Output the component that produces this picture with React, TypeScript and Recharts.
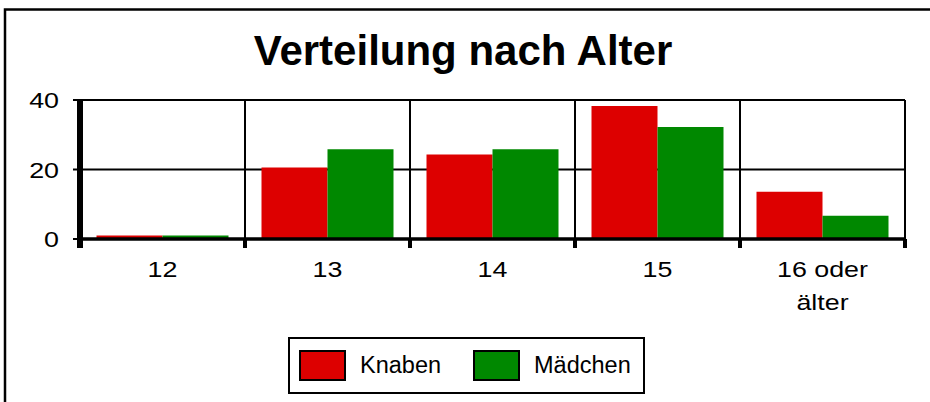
import { BarChart, Bar, XAxis, YAxis, CartesianGrid, Legend } from 'recharts';

const ages = ['12', '13', '14', '15', '16 oder\nälter'];
const knaben = [1, 20.6, 24.3, 38.3, 13.6];
const maedchen = [1, 25.8, 25.8, 32.2, 6.7];
const yTicks = [0, 20, 40];

const data = ages.map((age, i) => ({ age, knaben: knaben[i], maedchen: maedchen[i] }));

const FONT = '"Liberation Sans", Arial, sans-serif';

// vertical grid lines sit on the category boundaries, not on the centres
const boundaryLines = ({ xAxis, offset }: any) => {
    const scale = xAxis && xAxis.scale;
    if (typeof scale === 'function' && typeof scale.bandwidth === 'function') {
        const bw = scale.bandwidth();
        const edges = ages.map((a) => scale(a));
        edges.push(scale(ages[ages.length - 1]) + bw);
        return edges;
    }
    const step = offset.width / ages.length;
    return [...ages.map((_, i) => offset.left + i * step), offset.left + offset.width];
};

const AgeTick = (props: any) => {
    const { x, y, payload, index } = props;
    const half = payload.offset ?? 0;
    const lines = String(payload.value).split('\n');
    return (
        <g>
            <line x1={x - half} x2={x - half} y1={y} y2={y + 9} stroke="#000" strokeWidth={index === 0 ? 6 : 4} />
            {index === ages.length - 1 && (
                <line x1={x + half} x2={x + half} y1={y} y2={y + 9} stroke="#000" strokeWidth={4} />
            )}
            {lines.map((line, i) => (
                <g key={i} transform={`translate(${x},${y + 38 + i * 33}) scale(1.22,1)`}>
                    <text x={0} y={0} textAnchor="middle" fontSize={22} fontFamily={FONT} fill="#000">
                        {line}
                    </text>
                </g>
            ))}
        </g>
    );
};

const ValueTick = (props: any) => {
    const { x, y, payload } = props;
    return (
        <g transform={`translate(${x},${y + 8}) scale(1.22,1)`}>
            <text x={0} y={0} textAnchor="end" fontSize={22} fontFamily={FONT} fill="#000">
                {payload.value}
            </text>
        </g>
    );
};

const LegendBox = (props: any) => {
    const { payload } = props;
    return (
        <div
            style={{
                boxSizing: 'border-box',
                width: '100%',
                height: '100%',
                border: '2px solid #000',
                display: 'flex',
                alignItems: 'center',
                paddingLeft: 9,
                fontFamily: FONT,
                fontSize: 23.5,
                color: '#000',
                background: '#fff',
            }}
        >
            {(payload || []).map((entry: any, i: number) => (
                <div key={i} style={{ display: 'flex', alignItems: 'center', marginRight: 32 }}>
                    <span
                        style={{
                            display: 'inline-block',
                            boxSizing: 'border-box',
                            width: 47,
                            height: 31,
                            background: entry.color,
                            border: '2px solid #000',
                            marginRight: 14,
                        }}
                    />
                    <span>{entry.value}</span>
                </div>
            ))}
        </div>
    );
};

export default function App() {
    return (
        <div style={{ position: 'absolute', left: 0, top: 0, width: 930, height: 402, overflow: 'hidden', background: '#fff' }}>
            <svg width={930} height={402} style={{ position: 'absolute', left: 0, top: 0 }}>
                <rect x={5} y={9.5} width={1000} height={1000} fill="none" stroke="#000" strokeWidth={2.5} />
                <text x={463} y={65} textAnchor="middle" fontSize={42} fontWeight="bold" fontFamily={FONT} fill="#000">
                    Verteilung nach Alter
                </text>
            </svg>
            <div style={{ position: 'absolute', left: 0, top: 0 }}>
                <BarChart
                    width={930}
                    height={402}
                    data={data}
                    margin={{ top: 100, right: 25, left: 0, bottom: 83 }}
                    barCategoryGap="10%"
                    barGap={0}
                >
                    <CartesianGrid
                        stroke="#000"
                        strokeWidth={2}
                        verticalCoordinatesGenerator={boundaryLines}
                        syncWithTicks={false}
                    />
                    <XAxis
                        dataKey="age"
                        height={80}
                        interval={0}
                        tickSize={0}
                        tickMargin={0}
                        tickLine={false}
                        axisLine={{ stroke: '#000', strokeWidth: 3.5 }}
                        tick={<AgeTick />}
                    />
                    <YAxis
                        width={80}
                        domain={[0, 40]}
                        ticks={yTicks}
                        tickSize={7}
                        tickMargin={14}
                        tickLine={{ stroke: '#000', strokeWidth: 2 }}
                        axisLine={{ stroke: '#000', strokeWidth: 6 }}
                        tick={<ValueTick />}
                    />
                    <Legend
                        layout="vertical"
                        align="center"
                        verticalAlign="middle"
                        wrapperStyle={{ left: 288, top: 337, width: 357, height: 57 }}
                        content={<LegendBox />}
                    />
                    <Bar dataKey="knaben" name="Knaben" fill="#dd0000" isAnimationActive={false} />
                    <Bar dataKey="maedchen" name="Mädchen" fill="#008800" isAnimationActive={false} />
                </BarChart>
            </div>
        </div>
    );
}
